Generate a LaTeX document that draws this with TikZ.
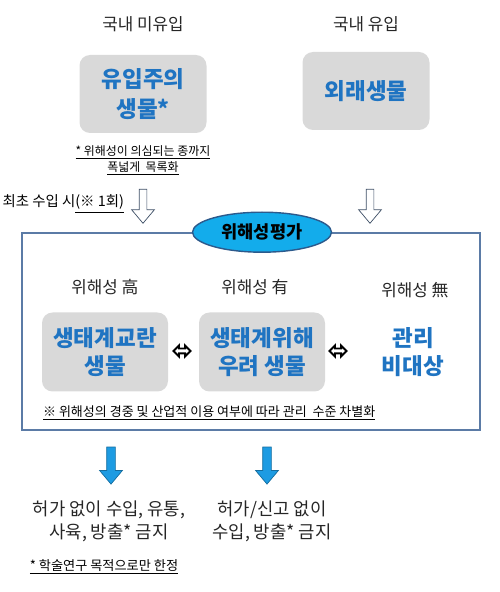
\documentclass[tikz,border=0pt]{standalone}
\usepackage{fontspec}
\setmainfont{Noto Sans CJK KR}
\usepackage{tikz}
\usetikzlibrary{positioning, shapes, arrows.meta, calc}
\definecolor{bioTitle}{HTML}{1F74C2}
\definecolor{bioGray}{HTML}{D9D9D9}
\definecolor{bioFrame}{HTML}{5B7BA6}
\definecolor{bioCyan}{HTML}{13ACEB}
\definecolor{bioNavy}{HTML}{2C5A8C}
\definecolor{bioArrow}{HTML}{1D9BE2}
\definecolor{bioOutline}{HTML}{3E4F66}
\tikzset{
    bioBoxBase/.style={
        rectangle,
        rounded corners=6pt,
        fill=bioGray,
        minimum width=2.54cm,
        minimum height=1.56cm,
        align=center,
        text=bioTitle,
        font=\fontsize{12.8}{15.5}\selectfont\bfseries,
        inner sep=2pt
    },
    bioHead/.style={font=\fontsize{9.6}{11}\selectfont, text=black!85, inner sep=1pt},
    bioNote/.style={font=\fontsize{6.8}{9}\selectfont, align=center, inner sep=1pt},
    bioBan/.style={font=\fontsize{10.1}{13}\selectfont, align=center, text=black!85, inner sep=1pt},
    % Block arrows
    hollowDown/.style={
        single arrow, draw=bioOutline, fill=white, rotate=-90,
        inner sep=0.07cm, minimum width=0cm, minimum height=0.68cm,
        single arrow head extend=0.15cm, single arrow tip angle=80
    },
    blueDown/.style={
        single arrow, draw=bioArrow!70!black, fill=bioArrow, rotate=-90,
        inner sep=0.08cm, minimum width=0cm, minimum height=0.74cm,
        single arrow head extend=0.14cm, single arrow tip angle=80
    },
    bothWays/.style={
        double arrow, draw=black, line width=1.1pt, fill=white,
        inner sep=0.03cm, minimum width=0cm, minimum height=0.34cm,
        double arrow head extend=0.06cm
    }
}

\begin{document}
\begin{tikzpicture}[
  box/.style={bioBoxBase}
]
\useasboundingbox (0,0) rectangle (10,11.84);

% sources
\node[box, font=\fontsize{12.8}{17}\selectfont\bfseries] (box_watch) at (2.86,9.96) {유입주의\\생물*};
\node[bioHead, above=0.42cm of box_watch] (lbl_out) {국내 미유입};
\node[bioNote, below=0.2cm of box_watch] (note_watch) {\underline{* 위해성이 의심되는 종까지}\\\underline{폭넓게\ \ 목록화}};
\node[box] (box_alien) at (7.32,10.02) {외래생물};
\node[bioHead, above=0.36cm of box_alien] (lbl_in) {국내 유입};

\node[hollowDown] (arr_first) at (2.86,7.76) {};
\node[hollowDown] (arr_alien) at (7.4,7.76) {};
\node[font=\fontsize{8.2}{9}\selectfont, inner sep=1pt, anchor=east] (lbl_first) at (2.52,7.76) {최초 수입 시\underline{(※ 1회)}};

% assessment
\node[draw=bioFrame, line width=0.9pt, minimum width=9.16cm, minimum height=3.94cm] (frame) at (5.02,5.21) {};
\node[ellipse, draw=bioNavy, line width=0.8pt, fill=bioCyan, minimum width=2.78cm, minimum height=0.8cm,
      font=\fontsize{10}{11}\selectfont\bfseries] (risk_eval) at ($(frame.north)+(0.22,0)$) {위해성평가};

\node[box, minimum width=2.52cm, minimum height=1.58cm] (box_disturb) at (2.1,4.8) {생태계교란\\생물};
\node[box, minimum width=2.52cm, minimum height=1.58cm] (box_concern) at (5.24,4.8) {생태계위해\\우려 생물};
\node[box, fill=none] (txt_none) at (8.26,4.8) {관리\\비대상};
\node[bothWays] (dbl_left) at (3.64,4.82) {};
\node[bothWays] (dbl_right) at (6.76,4.82) {};

\node[bioHead] (lbl_high) at (2.1,6.1) {위해성 高};
\node[bioHead] (lbl_some) at (5.1,6.1) {위해성 有};
\node[bioHead] (lbl_none) at (8.3,6.04) {위해성 無};
\node[bioNote, font=\fontsize{7.4}{9}\selectfont, anchor=west] (note_level) at (0.82,3.58) {\underline{※ 위해성의 경중 및 산업적 이용 여부에 따라 관리\ \ 수준 차별화}};

% outcomes
\node[blueDown] (arr_disturb) at (2.22,2.58) {};
\node[blueDown] (arr_concern) at (5.34,2.58) {};
\node[bioBan] (txt_ban1) at (2.18,1.42) {허가 없이 수입, 유통,\\사육, 방출* 금지};
\node[bioBan] (txt_ban2) at (5.44,1.42) {허가/신고 없이\\수입, 방출* 금지};
\node[bioNote, font=\fontsize{7.5}{9}\selectfont] (note_research) at (2.08,0.5) {\underline{* 학술연구 목적으로만 한정}};
\end{tikzpicture}
\end{document}
